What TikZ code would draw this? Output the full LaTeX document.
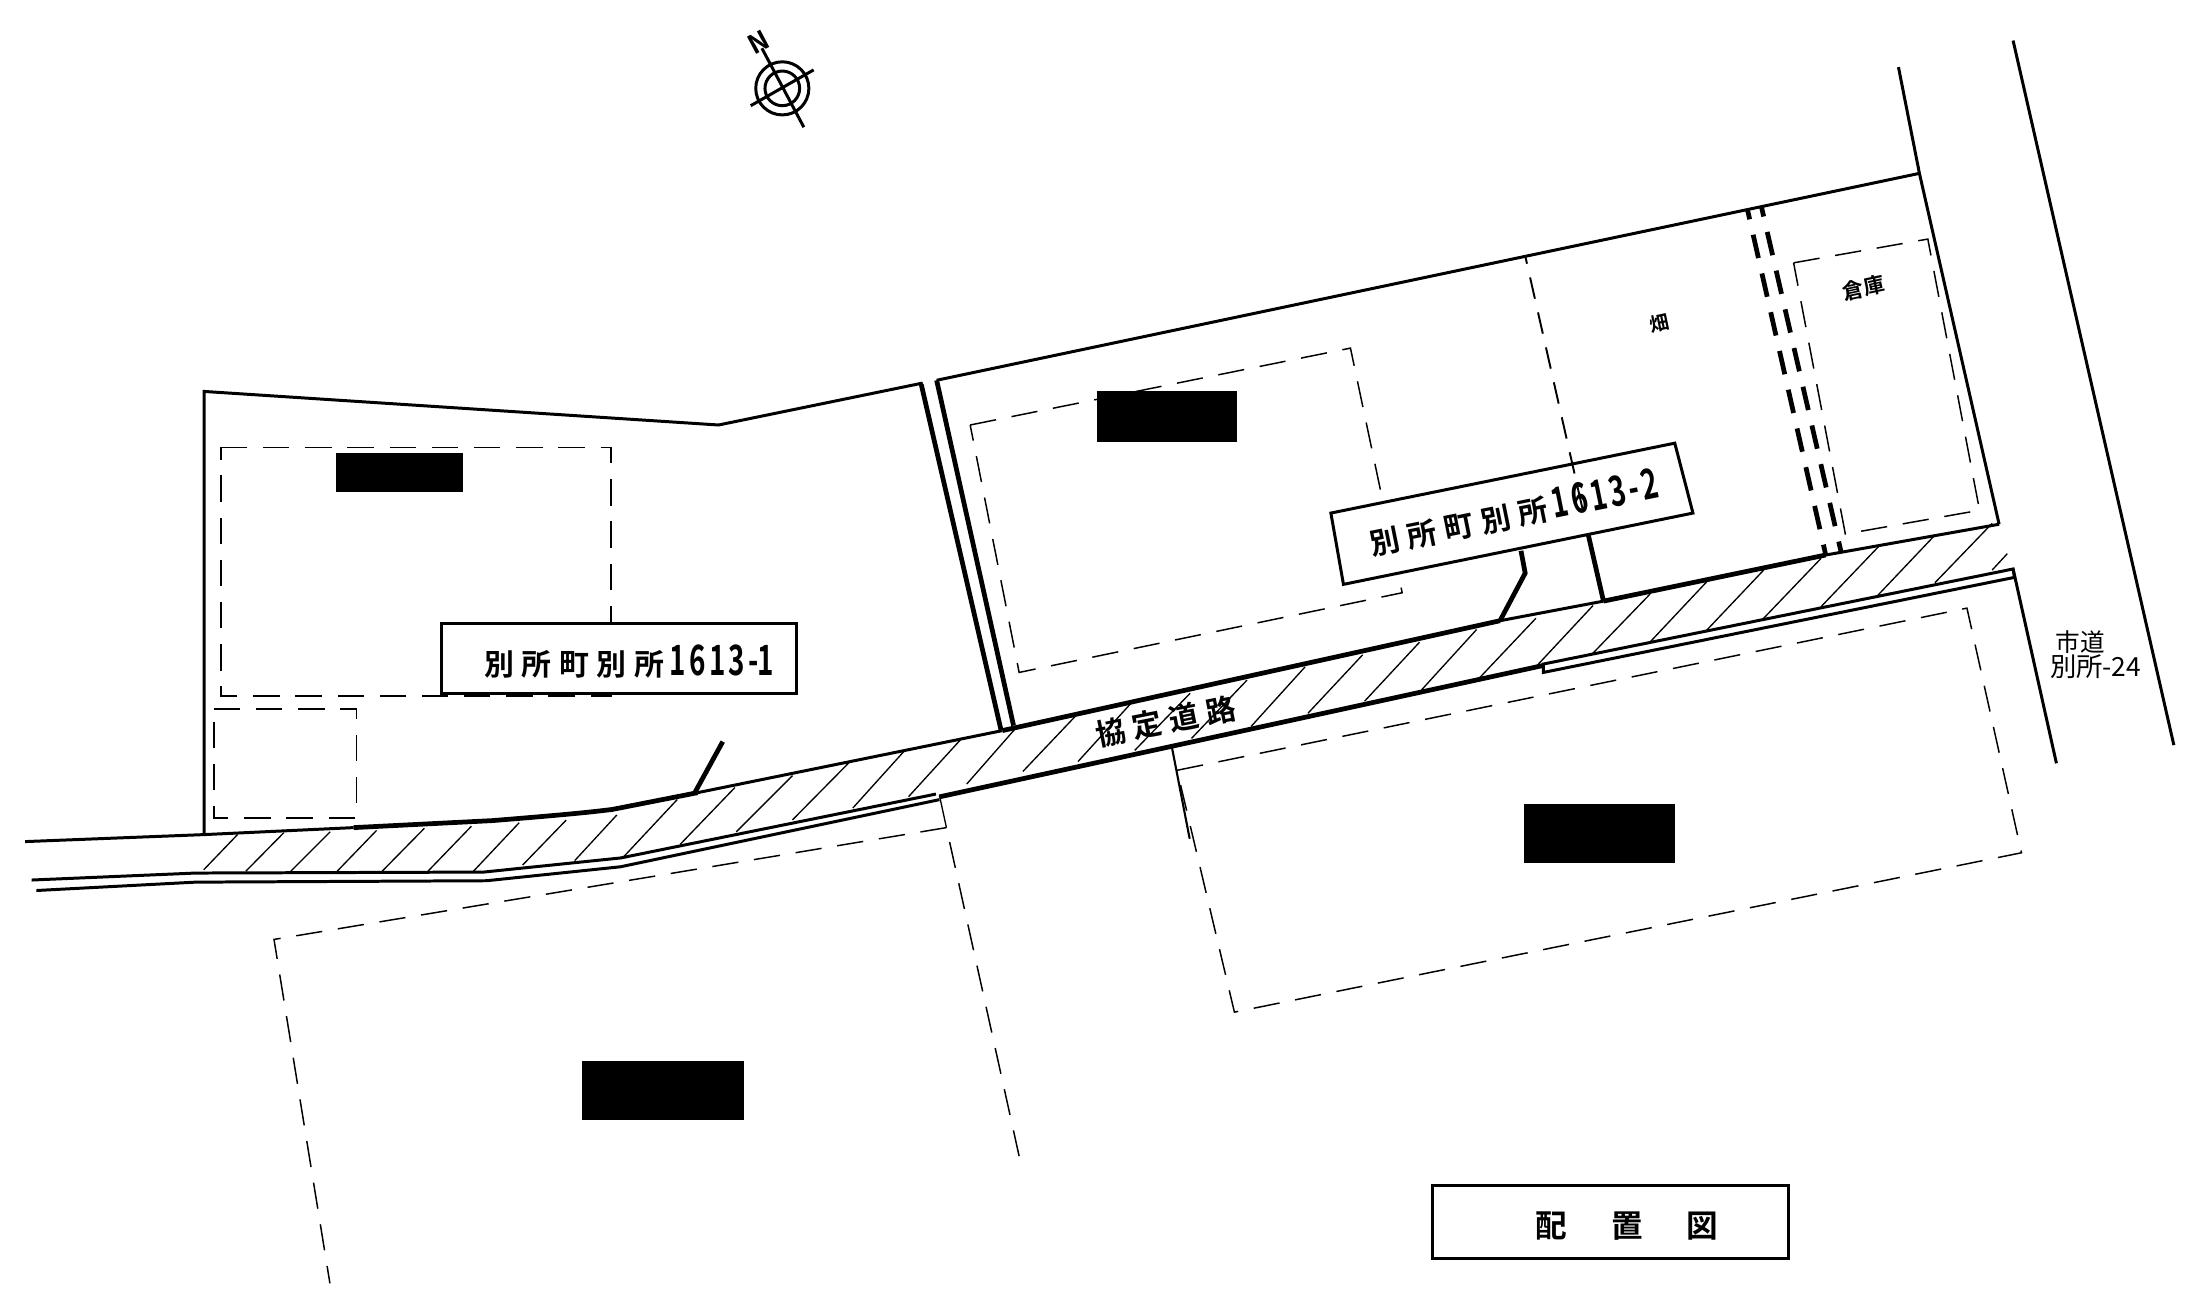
\documentclass[tikz,border=0pt]{standalone}
\usepackage{fontspec}
\setmainfont{Noto Sans CJK JP}[BoldFont={Noto Sans CJK JP Bold}]
\newcommand{\kk}[1]{\makebox[10.7pt][c]{#1}}
\newcommand{\dd}[2][5.6pt]{\makebox[#1][c]{\scalebox{0.72}[1.08]{\fontsize{11pt}{11pt}\selectfont #2}}}
\tikzset{
 thinl/.style={line width=0.38pt,black},
 medl/.style={line width=0.85pt,black},
 thkl/.style={line width=1.35pt,black},
 dashl/.style={line width=0.42pt,black,dash pattern=on 7.5pt off 4.5pt},
 middash/.style={line width=0.55pt,black,dash pattern=on 6.2pt off 4pt,dash phase=3.9pt},
 dbll/.style={line width=1.35pt,black,dash pattern=on 6.8pt off 4.5pt,dash phase=4pt},
 blk/.style={fill=black,draw=none},
 lab/.style={font=\bfseries\fontsize{8.5pt}{10pt}\selectfont,inner sep=0pt},
}
\begin{document}
\begin{tikzpicture}[x=0.01398cm,y=-0.01398cm,line join=miter]
\useasboundingbox (0,0) rectangle (1568,924.2);
\fill[white] (0,0) rectangle (1568,924.2);
% north symbol
\coordinate (nc) at (559.6,63.2);
\draw[medl] (nc) circle[radius=19];
\draw[medl] (nc) circle[radius=12.4];
\draw[medl] (545,34.5) -- (575,91);
\draw[medl] (537,75.6) -- (582,50);
\node[inner sep=0pt,rotate=28,font=\bfseries\fontsize{7.5pt}{9pt}\selectfont] (nlab) at (543,30) {N};
% parcel outlines
\draw[medl] (146,597) -- (146,280) -- (514,304) -- (660,274);
\draw[medl] (670,272) -- (1373,124);
\draw[medl] (1358,48) -- (1373,124) -- (1430,375);
\draw[medl] (1440,29) -- (1555,533);
\draw[medl] (1440,407) -- (1471,546);
% double walls
\draw[thkl] (659,275) -- (716,522);
\draw[thkl] (670,272) -- (725,519);
% dashed rectangles
\draw[dashl] (158,320) -- (437,320) -- (437,498) -- (158,498) -- cycle;
\draw[dashl] (153,507) -- (255,507) -- (255,585) -- (153,585) -- cycle;
\draw[dashl] (677,592) -- (196,672) -- (236,918);
\draw[dashl] (729,827) -- (677,592);
\draw[dashl] (842,551) -- (1407,435) -- (1446,610) -- (883,724) -- cycle;
\draw[dashl] (1283,188) -- (1379,171) -- (1416,365) -- (1320,382) -- cycle;
\draw[dashl] (694,304) -- (966,249) -- (1003,424) -- (729,481) -- cycle;
% hatch
\begin{scope}[scale=1.0051]
\foreach \a/\b/\c/\d in {169/594/145/619,202/592.6/175/620,235/592/207/620,268/591/240/620,302/589.5/272/620,335.5/588/304.6/620,369.5/585.5/337/620,403/583.6/372/615.6,439/580/409/612.5,482/569/444/609.6,523/560.5/484/601,564/552/524/592,604/543/564/583.5,644/534/607/575,684/526/646.6/567,724/517/688/558,766/509/728/549,806.3/499/767.2/542,847/493.4/807.6/534,887.5/484/848/525.5,928.9/474.5/890.4/517,969.8/466/930.8/507.7,1010.3/457/971.2/499,1050.9/448/1011.7/491,1093.1/440/1052.6/482.8,1133.7/431/1093.1/474.5,1174.3/422.8/1132.6/466,1214.7/414/1173.3/458,1255.2/405.7/1213.7/449.5,1296/397.4/1255.2/440,1337.9/388/1296/431.8,1377.1/380.8/1336.6/423.5,1417.8/372.5/1377.1/414.7,1428.6/394/1417.8/405.7}
  \draw[thinl] (\a,\b) -- (\c,\d);
\end{scope}
% road north edge
\draw[medl] (18,602) -- (146,597) -- (253,592);
\draw[thkl] (253,592) -- (352,587) .. controls (402,583) and (422,581) .. (438,579) -- (499,567);
\draw[medl] (499,567) -- (717,522.6);
\draw[thkl] (717,522.6) -- (1073,444);
\draw[medl] (1073,444) -- (1147,430);
\draw[thkl] (1147,430) -- (1306,397);
\draw[medl] (1306,397) -- (1430,375);
% road south edge
\draw[medl] (22.6,629.5) -- (140,624.5) -- (346,623.8) -- (444,613.7) -- (669.5,568);
\draw[medl] (26,637) -- (140,631) -- (348,630) -- (444,620) -- (672,572);
\draw[thinl] (672,569) -- (677,592);
\draw[thkl] (672,570) -- (1104,476);
\draw[medl] (1104,475) -- (1440,407) -- (1441,413) -- (1104,481) -- cycle;
% double dashed boundary
\draw[dbll] (1250,150) -- (1306,397);
\draw[dbll] (1260,148) -- (1317,395);
% label 2 box
\draw[medl,fill=white] (952,367) -- (1198,317) -- (1211,367) -- (961,418) -- cycle;
\node[lab,rotate=11.4] (lb2) at (1082,367) {\kk{別}\kk{所}\kk{町}\kk{別}\kk{所}\dd{1}\dd{6}\dd{1}\dd{3}\dd[3.6pt]{-}\dd{2}};
% mid dashed line
\draw[middash] (1091,183) -- (1132,364);
\draw[thkl] (1136,382) -- (1147,430);
\draw[thkl] (1088,394) -- (1091,410) -- (1073,444);
\draw[thkl] (517,530.5) -- (497,567);
% SE tick
\draw[line width=0.6pt,black] (838,533) -- (851,600);
% label 1 box
\draw[medl,fill=white] (316,446) rectangle (570,496);
\node[lab] (lb1) at (448,473) {\kk{別}\kk{所}\kk{町}\kk{別}\kk{所}\dd{1}\dd{6}\dd{1}\dd{3}\dd[3.6pt]{-}\dd[3.6pt]{1}};
% road label
\node[lab,rotate=11.2] (road) at (834,516) {\kk{協}\kk{定}\kk{道}\kk{路}};
% texts
\node[inner sep=0pt,font=\bfseries\fontsize{5.5pt}{6pt}\selectfont,rotate=12] (hata) at (1187,231) {畑};
\node[inner sep=0pt,font=\bfseries\fontsize{6pt}{7pt}\selectfont,rotate=12] (souko) at (1333,206) {倉庫};
\node[inner sep=0pt,font=\fontsize{7pt}{8pt}\selectfont] (shi) at (1488,459) {市道};
\node[inner sep=0pt,font=\fontsize{7.5pt}{8pt}\selectfont] (bes) at (1499,477) {別所-24};
% redaction blocks
\fill[blk] (240,324) rectangle (331,352);
\fill[blk] (785,280) rectangle (885,316);
\fill[blk] (1090,575) rectangle (1198,617);
\fill[blk] (416,759) rectangle (532,801);
% title box
\draw[medl] (1025,848) rectangle (1279,900);
\node[lab,font=\bfseries\fontsize{9pt}{10pt}\selectfont] (t1) at (1110,877) {配};
\node[lab,font=\bfseries\fontsize{9pt}{10pt}\selectfont] (t2) at (1164,877) {置};
\node[lab,font=\bfseries\fontsize{9pt}{10pt}\selectfont] (t3) at (1218,877) {図};
\end{tikzpicture}
\end{document}
